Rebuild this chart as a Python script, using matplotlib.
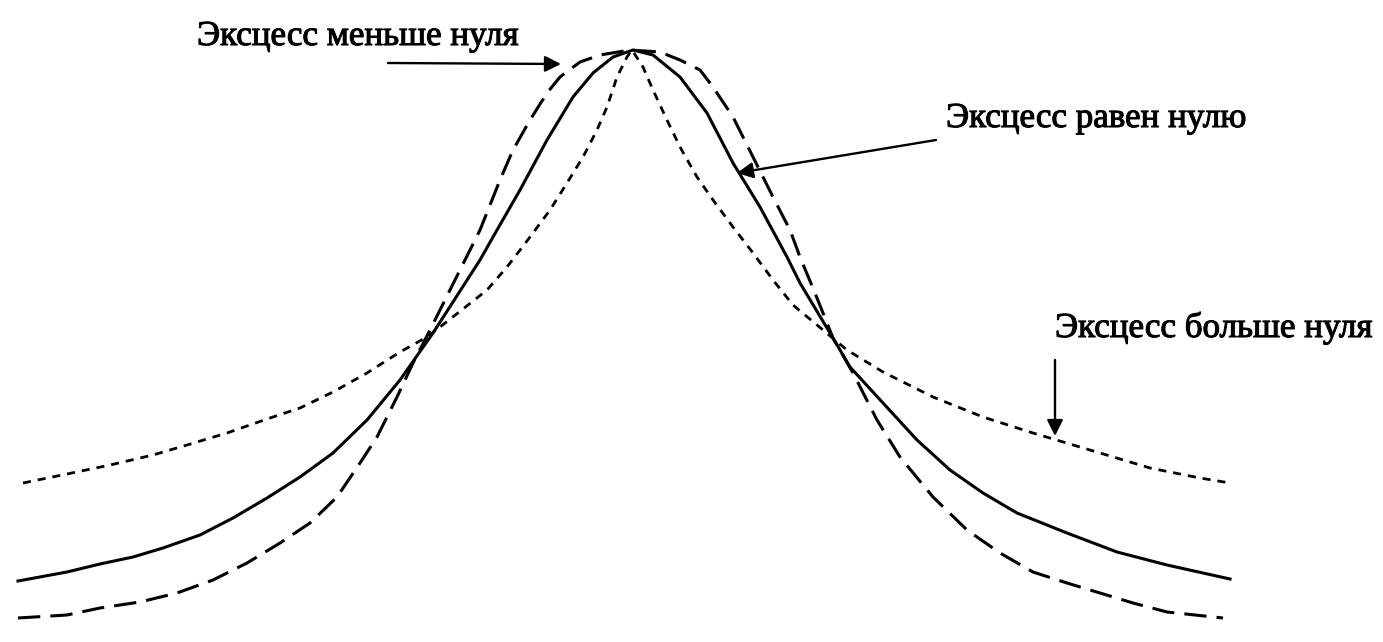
import matplotlib
matplotlib.use('Agg')
import matplotlib.pyplot as plt
import matplotlib.patheffects as pe

plt.rcParams['font.family'] = ['Liberation Serif', 'DejaVu Serif']

normal_x = [18, 67, 100, 133, 163, 200, 233, 267, 300, 333, 367, 400, 433, 480, 493,
            520, 547, 573, 593, 613, 633, 653, 680, 707, 733, 760, 787, 800, 833, 850,
            883, 917, 950, 983, 1017, 1067, 1117, 1167, 1230]
normal_y = [581, 572, 564, 557, 548, 535, 518, 498, 477, 453, 420, 380, 333, 260, 237,
            190, 140, 97, 73, 57, 50, 55, 77, 113, 163, 207, 257, 283, 338, 367,
            403, 440, 470, 493, 513, 533, 552, 565, 579]

flat_x = [18, 67, 100, 140, 177, 213, 247, 280, 310, 337, 360, 377, 397, 413, 430, 445,
          480, 500, 513, 530, 547, 560, 580, 600, 630, 660, 680, 700, 713, 733, 753,
          773, 790, 800, 815, 833, 853, 877, 900, 933, 967, 1000, 1033, 1067, 1100,
          1133, 1167, 1223]
flat_y = [618, 615, 608, 602, 593, 580, 563, 543, 523, 497, 463, 437, 397, 363, 330, 300,
          230, 180, 150, 120, 93, 77, 62, 55, 50, 52, 60, 70, 87, 117, 157,
          197, 230, 257, 293, 338, 373, 420, 457, 497, 530, 553, 572, 583, 593,
          603, 612, 618]

peaked_x = [23, 67, 110, 153, 187, 227, 267, 300, 333, 367, 400, 427, 449, 487, 507, 530,
            550, 567, 583, 597, 607, 617, 627, 632, 643, 653, 667, 680, 697, 713, 733,
            753, 773, 793, 847, 883, 933, 983, 1033, 1100, 1150, 1200, 1230]
peaked_y = [483, 474, 465, 455, 445, 433, 419, 408, 392, 373, 352, 337, 320, 290, 267, 237,
            210, 183, 157, 130, 107, 77, 57, 50, 67, 90, 120, 147, 177, 200, 227,
            253, 280, 305, 350, 372, 397, 417, 433, 453, 468, 478, 483]

labels = ['Эксцесс меньше нуля', 'Эксцесс равен нулю', 'Эксцесс больше нуля']

fig = plt.figure(figsize=(13.83, 6.42), dpi=100)
ax = fig.add_axes([0, 0, 1, 1])
ax.set_xlim(0, 1383)
ax.set_ylim(642, 0)
ax.axis('off')

ax.plot(normal_x, normal_y, color='black', lw=2.2, solid_joinstyle='round')
ax.plot(flat_x, flat_y, color='black', lw=2.2, dashes=(7.3, 3.3))
ax.plot(peaked_x, peaked_y, color='black', lw=2.0, dashes=(2.9, 2.5))

arrow = dict(arrowstyle='-|>', color='black', lw=1.7, mutation_scale=24,
             shrinkA=0, shrinkB=0)
bold = [pe.withStroke(linewidth=0.8, foreground='black')]

ax.text(197, 45, labels[0], fontsize=25.2, ha='left', va='baseline', path_effects=bold)
ax.annotate('', xy=(561, 64), xytext=(388, 63), arrowprops=arrow)

ax.text(946, 127, labels[1], fontsize=25.2, ha='left', va='baseline', path_effects=bold)
ax.annotate('', xy=(737, 173), xytext=(936, 140), arrowprops=arrow)

ax.text(1055, 337, labels[2], fontsize=25.2, ha='left', va='baseline', path_effects=bold)
ax.annotate('', xy=(1055, 436), xytext=(1055, 360), arrowprops=arrow)

fig.savefig('out.png', dpi=100, facecolor='white')
